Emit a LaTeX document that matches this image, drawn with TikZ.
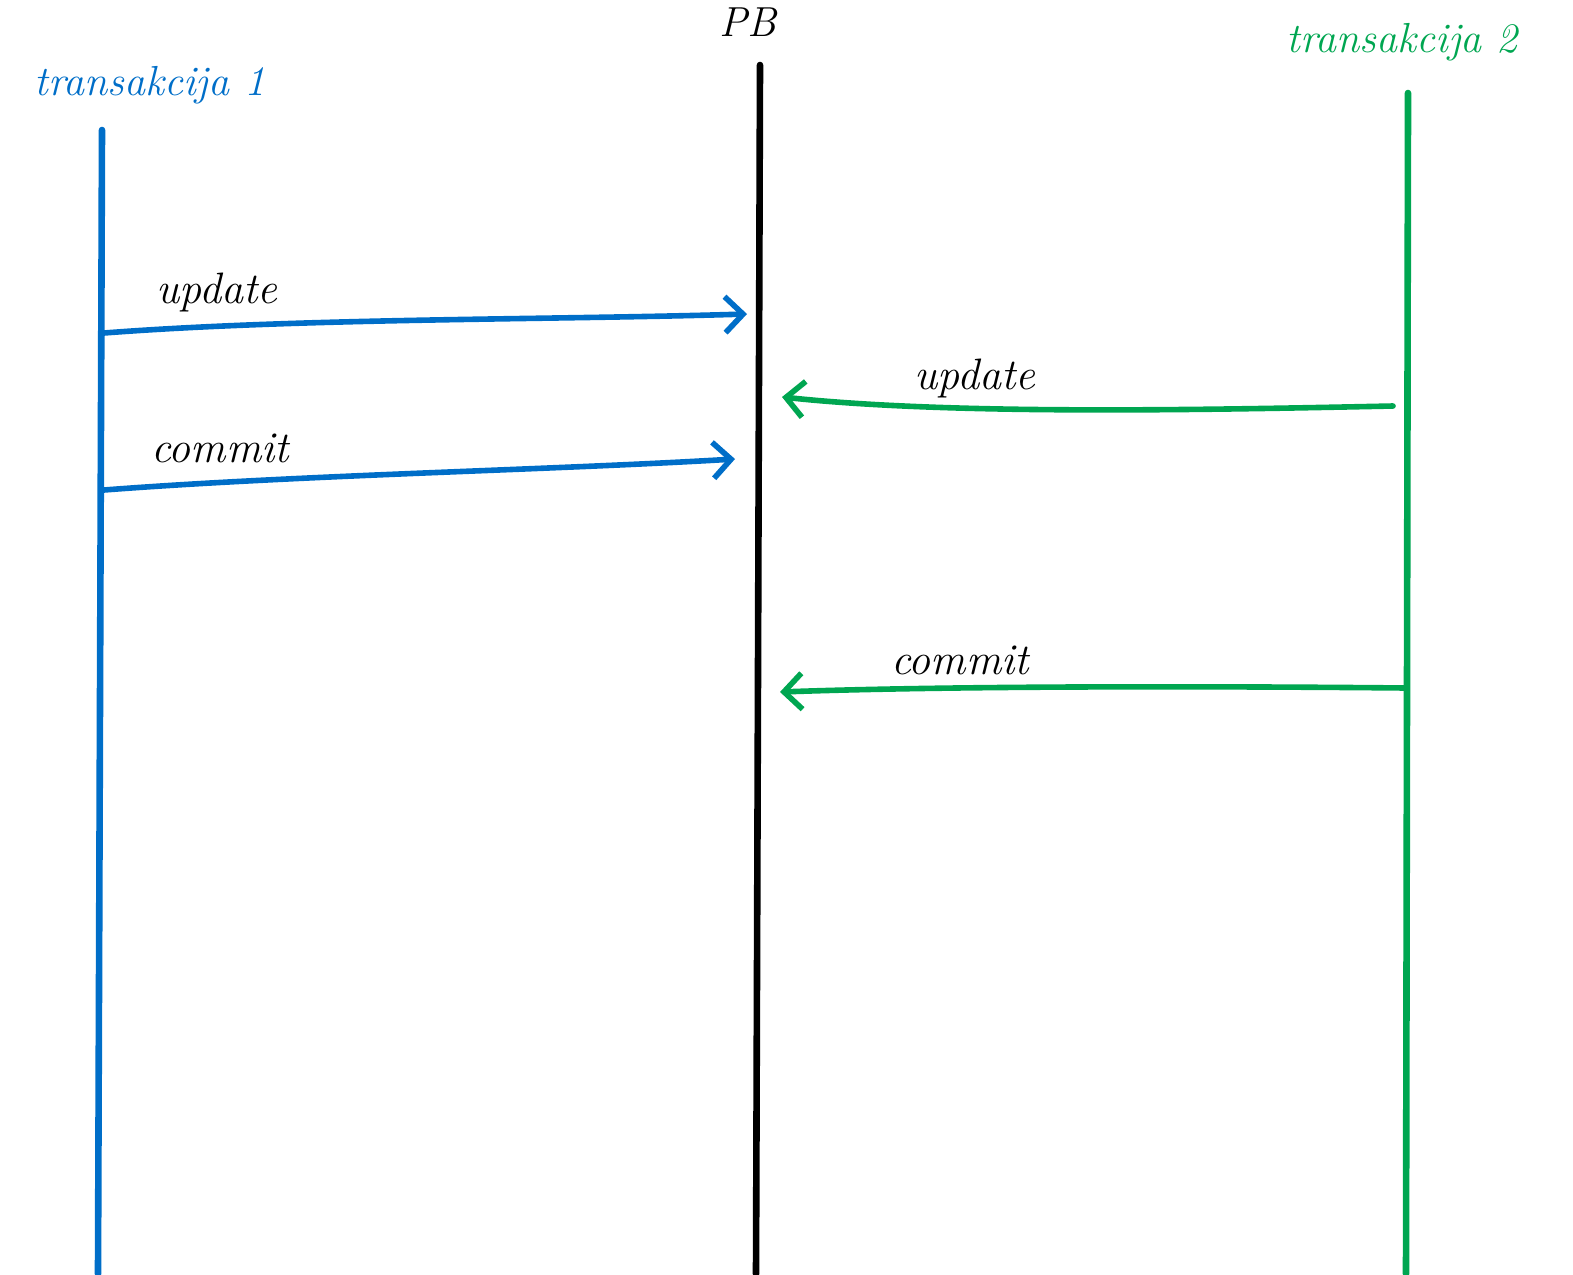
\documentclass[tikz,border=0pt]{standalone}
\usetikzlibrary{arrows.meta}
\definecolor{tblue}{RGB}{0,110,200}
\definecolor{tgreen}{RGB}{0,166,81}
\begin{document}
\begin{tikzpicture}[x=0.5pt,y=-0.5pt,
  life/.style={line width=3.3pt,line cap=round},
  msg/.style={line width=2.8pt,line cap=round,-{Straight Barb[length=9pt,width=18pt,line width=2.8pt]}},
  lbl/.style={font=\fontsize{22}{26}\selectfont\itshape,inner sep=0pt},
  head/.style={font=\fontsize{21}{25}\selectfont\itshape,inner sep=0pt}]
\useasboundingbox (0,0) rectangle (1573,1274);
% lifelines
\coordinate (b1) at (102,130); \coordinate (b2) at (98,1274);
\coordinate (k1) at (760,65);  \coordinate (k2) at (756,1274);
\coordinate (g1) at (1408,93); \coordinate (g2) at (1406,1274);
\draw[life,tblue] (b1) -- (b2);
\draw[life,black] (k1) -- (k2);
\draw[life,tgreen] (g1) -- (g2);
% headers
\node[head,tblue] (h1) at (150,85) {transakcija 1};
\node[head,black] (h2) at (748,22) {PB};
\node[head,tgreen] (h3) at (1402,42) {transakcija 2};
% messages
\coordinate (u1s) at (104,333); \coordinate (u1e) at (747,314);
\draw[msg,tblue] (u1s) .. controls (300,318) and (550,320) .. (u1e);
\node[lbl] (u1l) at (217,292) {update};
\coordinate (c1s) at (104,490); \coordinate (c1e) at (735,459);
\draw[msg,tblue] (c1s) .. controls (300,475) and (550,470) .. (c1e);
\node[lbl] (c1l) at (220,448) {commit};
\coordinate (u2s) at (1393,406); \coordinate (u2e) at (782,397);
\draw[msg,tgreen] (u2s) .. controls (1200,410) and (950,415) .. (u2e);
\node[lbl] (u2l) at (975,378) {update};
\coordinate (c2s) at (1406,688); \coordinate (c2e) at (780,692);
\draw[msg,tgreen] (c2s) .. controls (1200,686) and (950,686) .. (c2e);
\node[lbl] (c2l) at (960,660) {commit};
\end{tikzpicture}
\end{document}
